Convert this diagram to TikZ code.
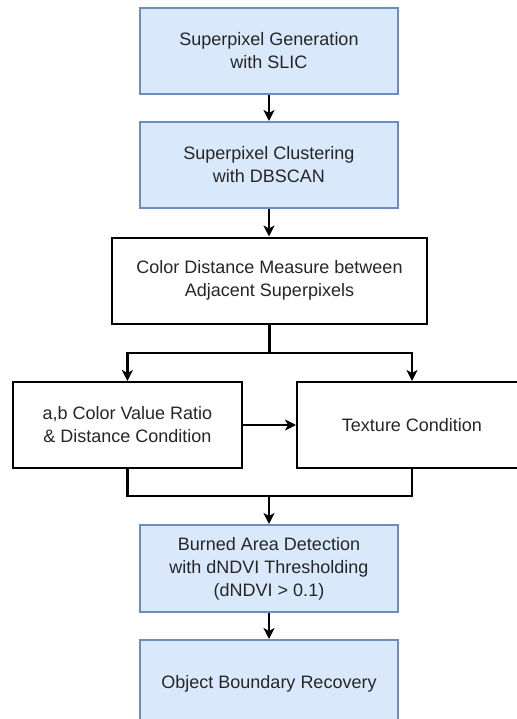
\documentclass[tikz,border=0pt]{standalone}
\usepackage{fontspec}
\setmainfont{Liberation Sans}
\usetikzlibrary{arrows.meta}
\definecolor{stepfill}{HTML}{DAE8FC}
\definecolor{stepline}{HTML}{6C8EBF}
\definecolor{txt}{HTML}{262626}
\begin{document}
\begin{tikzpicture}[x=1pt,y=-1pt,
  basebox/.style={rectangle, align=center, inner sep=0pt,
    font=\fontsize{18}{23}\selectfont, text=txt, line width=2pt},
  bluebox/.style={basebox, draw=stepline, fill=stepfill,
    minimum width=258pt, minimum height=86pt},
  whitebox/.style={basebox, draw=black, fill=white, minimum height=86pt},
  link/.style={line width=2.8pt, draw=black},
  arr/.style={link, -{Stealth[length=11pt,width=11pt,inset=3pt]}}
]
\useasboundingbox (0,0) rectangle (516,719);

% main column of processing steps
\node[bluebox] (b1) at (269,51) {Superpixel Generation\\with SLIC};
\node[bluebox] (b2) at (269,165) {Superpixel Clustering\\with DBSCAN};
\node[whitebox, minimum width=315pt] (b3) at (269.5,280.5)
  {Color Distance Measure between\\Adjacent Superpixels};
\node[whitebox, minimum width=229pt] (b4) at (127.4,425)
  {a,b Color Value Ratio\\\& Distance Condition};
\node[whitebox, minimum width=230pt] (b5) at (412,425) {Texture Condition};
\node[bluebox, minimum height=87pt] (b6) at (269,568.5)
  {Burned Area Detection\\with dNDVI Thresholding\\(dNDVI > 0.1)};
\node[bluebox, minimum height=88pt] (b7) at (269,684) {Object Boundary Recovery};

% branching and merging points
\coordinate (jl) at (127.4,353);
\coordinate (jr) at (412,353);
\coordinate (mrg) at (269,496);

% connectors
\draw[arr] (b1) -- (b2);
\draw[arr] (b2.south) -- (b2.south |- b3.north);
\draw[arr] (b3.south) |- (jl) -- (b4.north);
\draw[arr] (b3.south) |- (jr) -- (b5.north);
\draw[arr] (b4.east) -- (b5.west);
\draw[link] (b4.south) |- (mrg);
\draw[link] (b5.south) |- (mrg);
\draw[arr] (mrg) -- (b6.north);
\draw[arr] (b6) -- (b7);
\end{tikzpicture}
\end{document}
